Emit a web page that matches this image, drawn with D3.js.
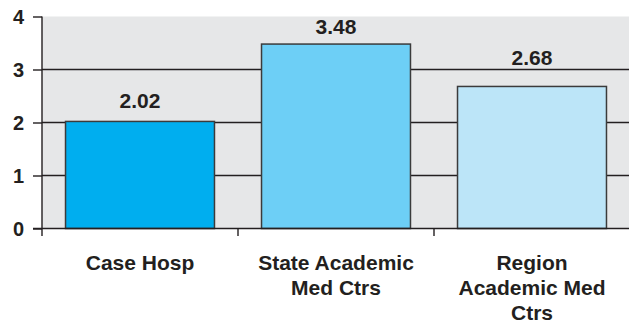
<!DOCTYPE html>
<html>
<head>
<meta charset="utf-8">
<script src="https://cdn.jsdelivr.net/npm/d3@7"></script>
<style>
  html, body { margin: 0; padding: 0; background: #fff; }
  svg { display: block; }
  text { font-family: "Liberation Sans", Arial, Helvetica, sans-serif; font-weight: bold; fill: #231f20; }
</style>
</head>
<body>
<svg id="chart" width="629" height="326"></svg>
<script>
// Chart data
const categories = ["Case Hosp", "State Academic Med Ctrs", "Region Academic Med Ctrs"];
const categoryLines = [["Case Hosp"], ["State Academic", "Med Ctrs"], ["Region", "Academic Med", "Ctrs"]];
const values = [2.02, 3.48, 2.68];
const valueLabels = ["2.02", "3.48", "2.68"];
const yTicks = [0, 1, 2, 3, 4];

// Styling
const barColors = ["#00aeef", "#6dcff6", "#bce5f8"];
const labelGap = [13, 10, 21];

const svg = d3.select("#chart");
const plotLeft = 42, plotRight = 630, plotTop = 16.5, plotBottom = 228.5;

const x = d3.scaleBand().domain(categories).range([plotLeft, plotRight])
  .paddingInner(0.24).paddingOuter(0.12);
const y = d3.scaleLinear().domain([0, 4]).range([plotBottom, plotTop]);

// Plot background
svg.append("rect")
  .attr("x", plotLeft).attr("y", plotTop)
  .attr("width", 629 - plotLeft).attr("height", plotBottom - plotTop)
  .attr("fill", "#e6e7e8");

// Horizontal gridlines
svg.append("g").selectAll("line")
  .data(yTicks.filter(d => d > 0 && d < 4))
  .join("line")
  .attr("x1", plotLeft).attr("x2", 629)
  .attr("y1", d => y(d)).attr("y2", d => y(d))
  .attr("stroke", "#231f20").attr("stroke-width", 1.4);

// Bars
svg.append("g").selectAll("rect")
  .data(values)
  .join("rect")
  .attr("x", (d, i) => x(categories[i]))
  .attr("y", d => y(d))
  .attr("width", x.bandwidth())
  .attr("height", d => y(0) - y(d))
  .attr("fill", (d, i) => barColors[i])
  .attr("stroke", "#3b3b3b")
  .attr("stroke-width", 1.5);

// Value labels
svg.append("g").selectAll("text")
  .data(values)
  .join("text")
  .attr("x", (d, i) => x(categories[i]) + x.bandwidth() / 2)
  .attr("y", (d, i) => y(d) - labelGap[i])
  .attr("text-anchor", "middle")
  .attr("font-size", 21)
  .text((d, i) => valueLabels[i]);

// Y axis
const yAxis = svg.append("g")
  .attr("transform", `translate(${plotLeft},0)`)
  .call(d3.axisLeft(y).tickValues(yTicks).tickFormat(d3.format("d")).tickSize(9).tickPadding(9));
yAxis.select(".domain").remove();
yAxis.selectAll(".tick line").attr("stroke", "#231f20").attr("stroke-width", 1.4);
yAxis.selectAll(".tick text")
  .attr("font-size", 20).attr("font-family", null).attr("fill", "#231f20")
  .attr("dy", "0.36em");
svg.append("line")
  .attr("x1", plotLeft).attr("x2", plotLeft)
  .attr("y1", plotTop).attr("y2", plotBottom + 7.5)
  .attr("stroke", "#231f20").attr("stroke-width", 1.4);

// X axis baseline and category separators
svg.append("line")
  .attr("x1", plotLeft - 9).attr("x2", 629)
  .attr("y1", plotBottom).attr("y2", plotBottom)
  .attr("stroke", "#231f20").attr("stroke-width", 1.4);
const step = x.step();
svg.append("g").selectAll("line")
  .data(categories.slice(1))
  .join("line")
  .attr("x1", d => x(d) - x.paddingInner() * step / 2)
  .attr("x2", d => x(d) - x.paddingInner() * step / 2)
  .attr("y1", plotBottom).attr("y2", plotBottom + 7.5)
  .attr("stroke", "#231f20").attr("stroke-width", 1.4);

// Category labels
const cat = svg.append("g").selectAll("text")
  .data(categories)
  .join("text")
  .attr("x", d => x(d) + x.bandwidth() / 2)
  .attr("y", 270)
  .attr("text-anchor", "middle")
  .attr("font-size", 21);
cat.each(function(d, i) {
  d3.select(this).selectAll("tspan")
    .data(categoryLines[i])
    .join("tspan")
    .attr("x", x(d) + x.bandwidth() / 2)
    .attr("dy", (t, j) => j === 0 ? 0 : 25)
    .text(t => t);
});
</script>
</body>
</html>
